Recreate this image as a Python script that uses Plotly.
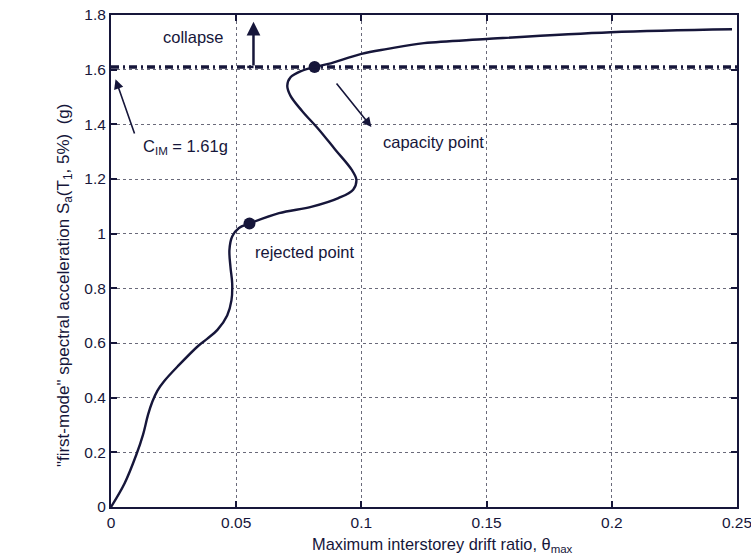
import plotly.graph_objects as go

# IDA curve (drift ratio, Sa)
curve_x = [0.0, 0.0054, 0.0101, 0.0128, 0.0148, 0.0165, 0.0185, 0.0212, 0.0269, 0.0349,
           0.0385, 0.0425, 0.0464, 0.0481, 0.0484, 0.0477, 0.0473, 0.0484, 0.0511, 0.0553,
           0.0671, 0.0803, 0.0908, 0.0967, 0.098, 0.0961, 0.0895, 0.0829, 0.0763, 0.0717,
           0.0704, 0.0717, 0.0763, 0.0813, 0.0868, 0.1, 0.1105, 0.125, 0.150, 0.1996, 0.248]
curve_y = [0.0, 0.086, 0.191, 0.265, 0.338, 0.385, 0.425, 0.46, 0.517, 0.590,
           0.616, 0.648, 0.701, 0.756, 0.818, 0.879, 0.941, 0.990, 1.021, 1.037,
           1.075, 1.099, 1.130, 1.161, 1.197, 1.234, 1.308, 1.382, 1.449, 1.504,
           1.541, 1.572, 1.596, 1.61, 1.621, 1.658, 1.676, 1.697, 1.712, 1.737, 1.748]

point_x = [0.0553, 0.0813]
point_y = [1.037, 1.61]

c_im = 1.61
x_ticks = [0, 0.05, 0.1, 0.15, 0.2, 0.25]
y_ticks = [0, 0.2, 0.4, 0.6, 0.8, 1, 1.2, 1.4, 1.6, 1.8]

INK = "#16163a"
FONT = "Liberation Sans, Arial, Helvetica, sans-serif"

fig = go.Figure()
fig.add_trace(go.Scatter(x=curve_x, y=curve_y, mode="lines",
                         line=dict(color=INK, width=2.4, shape="spline", smoothing=1.0),
                         hoverinfo="skip", showlegend=False))
fig.add_trace(go.Scatter(x=point_x, y=point_y, mode="markers",
                         marker=dict(color=INK, size=12), showlegend=False))

# capacity line
fig.add_shape(type="line", x0=0, x1=0.25, y0=c_im, y1=c_im, xref="x", yref="y",
              line=dict(color=INK, width=3.5, dash="8px,4px,2px,4px"))
# collapse arrow base
fig.add_shape(type="line", x0=0.0544, x1=0.0569, y0=c_im, y1=c_im, xref="x", yref="y",
              line=dict(color=INK, width=2.5))

annots = []
# collapse arrow
annots.append(dict(x=0.0569, y=1.775, ax=0.0569, ay=c_im, xref="x", yref="y",
                   axref="x", ayref="y", showarrow=True, arrowhead=2, arrowsize=1.1,
                   arrowwidth=2.5, arrowcolor=INK, text=""))
# CIM arrow
annots.append(dict(x=0.0018, y=1.565, ax=0.0096, ay=1.361, xref="x", yref="y",
                   axref="x", ayref="y", showarrow=True, arrowhead=2, arrowsize=1.2,
                   arrowwidth=1.6, arrowcolor=INK, text=""))
# capacity arrow
annots.append(dict(x=0.104, y=1.39, ax=0.0896, ay=1.555, xref="x", yref="y",
                   axref="x", ayref="y", showarrow=True, arrowhead=2, arrowsize=1.2,
                   arrowwidth=1.6, arrowcolor=INK, text=""))

labels = [
    ("collapse", 0.0328, 1.72),
    ("C<sub>IM</sub> = 1.61g", 0.0296, 1.317),
    ("rejected point", 0.0772, 0.934),
    ("capacity point", 0.1288, 1.336),
]
for txt, lx, ly in labels:
    annots.append(dict(x=lx, y=ly, xref="x", yref="y", text=txt, showarrow=False,
                       xanchor="center", yanchor="middle",
                       font=dict(family=FONT, size=16.5, color=INK)))

# axis titles
annots.append(dict(x=-0.0735, y=0.451, xref="paper", yref="paper", textangle=-90,
                   xanchor="center", yanchor="middle",
                   text="\"first-mode\" spectral acceleration S<sub>a</sub>(T<sub>1</sub>, 5%)  (g)",
                   showarrow=False, font=dict(family=FONT, size=17, color=INK)))
annots.append(dict(x=0.529, y=-0.077, xref="paper", yref="paper",
                   xanchor="center", yanchor="middle",
                   text="Maximum interstorey drift ratio, θ<sub>max</sub>",
                   showarrow=False, font=dict(family=FONT, size=16.4, color=INK)))

axis_common = dict(showline=True, linecolor=INK, linewidth=2, mirror="ticks",
                   ticks="inside", ticklen=6, tickwidth=1.5, tickcolor=INK,
                   showgrid=True, gridcolor="#6a6a7a", griddash="dot", gridwidth=1,
                   zeroline=False, automargin=False, ticklabeloverflow="allow",
                   tickfont=dict(family=FONT, size=15.5, color=INK))

fig.update_xaxes(range=[0, 0.25], tickvals=x_ticks, ticktext=[f"{v:g}" for v in x_ticks],
                 **axis_common)
fig.update_yaxes(range=[0, 1.8], tickvals=y_ticks, ticktext=[f"{v:g}" for v in y_ticks],
                 **axis_common)

fig.update_layout(width=751, height=559, margin=dict(l=111, r=14, t=15, b=52),
                  plot_bgcolor="white", paper_bgcolor="white", annotations=annots,
                  font=dict(family=FONT, size=15, color=INK))

fig.write_html("out.html")
